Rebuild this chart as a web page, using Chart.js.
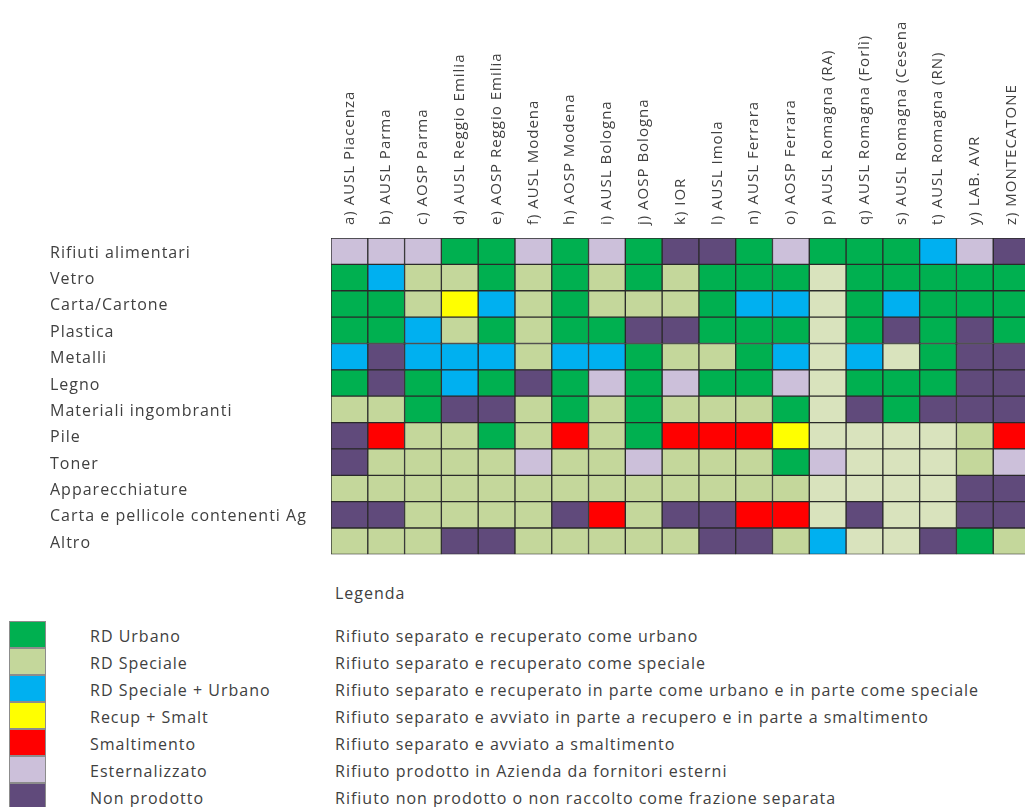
<!DOCTYPE html>
<html>
<head>
<meta charset="utf-8">
<script src="https://cdn.jsdelivr.net/npm/chart.js@4.4.1/dist/chart.umd.min.js"></script>
<style>
  html, body { margin: 0; padding: 0; background: #fff; width: 1025px; height: 807px; overflow: hidden; }
  #wrap { position: absolute; left: 0; top: 0; width: 1032px; height: 564px; }
  .txt { position: absolute; font-family: 'Open Sans', sans-serif; font-size: 16px; letter-spacing: 1px; color: #404040; white-space: nowrap; line-height: 27px; }
  .sw { position: absolute; left: 9px; width: 37px; height: 27px; box-sizing: border-box; border: 1px solid #8c8c8c; }
</style>
</head>
<body>
<div id="wrap"><canvas id="grid" width="1032" height="564"></canvas></div>
<div id="legend"></div>
<script>
// Waste types (rows)
var rows = ['Rifiuti alimentari', 'Vetro', 'Carta/Cartone', 'Plastica', 'Metalli', 'Legno',
            'Materiali ingombranti', 'Pile', 'Toner', 'Apparecchiature',
            'Carta e pellicole contenenti Ag', 'Altro'];

// Health companies (columns)
var columns = ['a) AUSL Piacenza', 'b) AUSL Parma', 'c) AOSP Parma', 'd) AUSL Reggio Emilia',
               'e) AOSP Reggio Emilia', 'f) AUSL Modena', 'h) AOSP Modena', 'i) AUSL Bologna',
               'j) AOSP Bologna', 'k) IOR', 'l) AUSL Imola', 'n) AUSL Ferrara', 'o) AOSP Ferrara',
               'p) AUSL Romagna (RA)', 'q) AUSL Romagna (Forlì)', 's) AUSL Romagna (Cesena',
               't) AUSL Romagna (RN)', 'y) LAB. AVR', 'z) MONTECATONE'];

// One string per row, one letter per column
// U=RD Urbano, S=RD Speciale (s = lighter shade), B=RD Speciale + Urbano, Y=Recup + Smalt,
// R=Smaltimento, E=Esternalizzato, N=Non prodotto
var cells = [
  'EEEUUEUEUNNUEUUUBEN',
  'UBSSUSUSUSUUUsUUUUU',
  'UUSYBSUSSSUBBsUBUUU',
  'UUBSUSUUNNUUUsUNUNU',
  'BNBBBSBBUSSUBsBsUNN',
  'UNUBUNUEUEUUEsUUUNN',
  'SSUNNSUSUSSSUsNUNNN',
  'NRSSUSRSURRRYssssSR',
  'NSSSSESSESSSUEsssSE',
  'SSSSSSSSSSSSSssssNN',
  'NNSSSSNRSNNRRsNssNN',
  'SSSNNSSSSSNNSBssNUS'
];

// Legend
var legendCodes = ['U', 'S', 'B', 'Y', 'R', 'E', 'N'];
var legendNames = ['RD Urbano', 'RD Speciale', 'RD Speciale + Urbano', 'Recup + Smalt',
                   'Smaltimento', 'Esternalizzato', 'Non prodotto'];
var legendNotes = ['Rifiuto separato e recuperato come urbano',
                   'Rifiuto separato e recuperato come speciale',
                   'Rifiuto separato e recuperato in parte come urbano e in parte come speciale',
                   'Rifiuto separato e avviato in parte a recupero e in parte a smaltimento',
                   'Rifiuto separato e avviato a smaltimento',
                   'Rifiuto prodotto in Azienda da fornitori esterni',
                   'Rifiuto non prodotto o non raccolto come frazione separata'];

var codeColor = {
  U: '#00b050', S: '#c4d79b', s: '#d9e3bd', B: '#00b0f0', Y: '#ffff00',
  R: '#ff0000', E: '#ccc0da', N: '#604a7b'
};

var textColor = '#404040';

// each column is a dataset, each cell one unit wide
var datasets = columns.map(function (col, j) {
  return {
    label: col,
    data: rows.map(function () { return 1; }),
    backgroundColor: cells.map(function (r) { return codeColor[r[j]]; }),
    borderColor: '#2a2a2a',
    borderWidth: 1,
    borderSkipped: false,
    barPercentage: 1,
    categoryPercentage: 1
  };
});

// the source text is a bit wide, so space the letters out
var letterSpacing = {
  id: 'letterSpacing',
  beforeDraw: function (chart) { chart.ctx.letterSpacing = '1px'; }
};

var ctx = document.getElementById('grid').getContext('2d');
new Chart(ctx, {
  type: 'bar',
  data: { labels: rows, datasets: datasets },
  plugins: [letterSpacing],
  options: {
    indexAxis: 'y',
    responsive: false,
    animation: false,
    layout: { padding: { left: 50, top: 0, right: 2, bottom: 3 } },
    plugins: { legend: { display: false }, tooltip: { enabled: false } },
    scales: {
      x: {
        stacked: true,
        position: 'top',
        min: 0,
        max: columns.length,
        grid: { display: false },
        border: { display: false },
        afterBuildTicks: function (axis) {
          axis.ticks = columns.map(function (c, i) { return { value: i + 0.5 }; });
        },
        ticks: {
          autoSkip: false,
          minRotation: 90,
          maxRotation: 90,
          padding: 5,
          labelOffset: 18,
          color: textColor,
          font: { family: 'Open Sans', size: 15 },
          callback: function (v, i) { return columns[i]; }
        },
        afterFit: function (axis) { axis.height = 238; }
      },
      y: {
        stacked: true,
        grid: { display: false },
        border: { display: false },
        ticks: { crossAlign: 'far', padding: 0, labelOffset: 2, color: textColor,
                 font: { family: 'Open Sans', size: 16 } },
        afterFit: function (axis) { axis.width = 281; }
      }
    }
  }
});

// HTML legend below the grid
var leg = document.getElementById('legend');
function addText(str, left, top) {
  var d = document.createElement('div');
  d.className = 'txt';
  d.style.left = left + 'px';
  d.style.top = top + 'px';
  d.textContent = str;
  leg.appendChild(d);
}
addText('Legenda', 335, 580);
legendCodes.forEach(function (code, i) {
  var top = 621 + i * 27;
  var sw = document.createElement('div');
  sw.className = 'sw';
  sw.style.top = top + 'px';
  sw.style.background = codeColor[code];
  leg.appendChild(sw);
  addText(legendNames[i], 90, top + 2);
  addText(legendNotes[i], 335, top + 2);
});
</script>
</body>
</html>
